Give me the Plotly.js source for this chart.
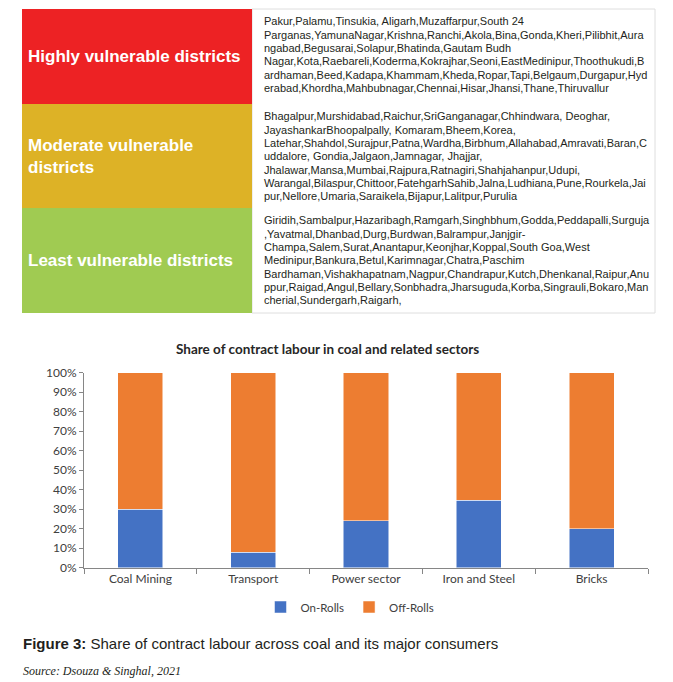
<!DOCTYPE html>
<html>
<head>
<meta charset="utf-8">
<script src="https://cdn.plot.ly/plotly-3.0.1.min.js"></script>
<style>html,body{margin:0;padding:0;background:#fff;}#chart{width:673px;height:682px;}</style>
</head>
<body>
<div id="chart"></div>
<script>
// ---------- data ----------
const tierLabels = ["Highly vulnerable districts", "Moderate vulnerable<br>districts", "Least vulnerable districts"];
const tierColors = ["#ED2224", "#DDB226", "#A0CB52"];
const highlyDistricts = [
  "Pakur,Palamu,Tinsukia, Aligarh,Muzaffarpur,South 24",
  "Parganas,YamunaNagar,Krishna,Ranchi,Akola,Bina,Gonda,Kheri,Pilibhit,Aura",
  "ngabad,Begusarai,Solapur,Bhatinda,Gautam Budh",
  "Nagar,Kota,Raebareli,Koderma,Kokrajhar,Seoni,EastMedinipur,Thoothukudi,B",
  "ardhaman,Beed,Kadapa,Khammam,Kheda,Ropar,Tapi,Belgaum,Durgapur,Hyd",
  "erabad,Khordha,Mahbubnagar,Chennai,Hisar,Jhansi,Thane,Thiruvallur"
];
const moderateDistricts = [
  "Bhagalpur,Murshidabad,Raichur,SriGanganagar,Chhindwara, Deoghar,",
  "JayashankarBhoopalpally, Komaram,Bheem,Korea,",
  "Latehar,Shahdol,Surajpur,Patna,Wardha,Birbhum,Allahabad,Amravati,Baran,C",
  "uddalore, Gondia,Jalgaon,Jamnagar, Jhajjar,",
  "Jhalawar,Mansa,Mumbai,Rajpura,Ratnagiri,Shahjahanpur,Udupi,",
  "Warangal,Bilaspur,Chittoor,FatehgarhSahib,Jalna,Ludhiana,Pune,Rourkela,Jai",
  "pur,Nellore,Umaria,Saraikela,Bijapur,Lalitpur,Purulia"
];
const leastDistricts = [
  "Giridih,Sambalpur,Hazaribagh,Ramgarh,Singhbhum,Godda,Peddapalli,Surguja",
  ",Yavatmal,Dhanbad,Durg,Burdwan,Balrampur,Janjgir-",
  "Champa,Salem,Surat,Anantapur,Keonjhar,Koppal,South Goa,West",
  "Medinipur,Bankura,Betul,Karimnagar,Chatra,Paschim",
  "Bardhaman,Vishakhapatnam,Nagpur,Chandrapur,Kutch,Dhenkanal,Raipur,Anu",
  "ppur,Raigad,Angul,Bellary,Sonbhadra,Jharsuguda,Korba,Singrauli,Bokaro,Man",
  "cherial,Sundergarh,Raigarh,"
];
const sectors = ["Coal Mining", "Transport", "Power sector", "Iron and Steel", "Bricks"];
const onRolls = [30, 8, 24, 34.5, 20];
const offRolls = [70, 92, 76, 65.5, 80];
const chartTitle = "Share of contract labour in coal and related sectors";
const figureCaption = "<b>Figure 3:</b> Share of contract labour across coal and its major consumers";
const sourceText = "<i>Source: Dsouza &amp; Singhal, 2021</i>";

// ---------- layout helpers ----------
const W = 673, H = 682;
const px = x => x / W;
const py = y => 1 - y / H;
const rowEdges = [9, 104, 208, 313];
const colLeft = 22, colSplit = 252, colRight = 655;
const districtRows = [highlyDistricts, moderateDistricts, leastDistricts];

const shapes = [];
const annotations = [];

// right column box
shapes.push({type: "rect", xref: "paper", yref: "paper",
  x0: px(colSplit), x1: px(colRight), y0: py(rowEdges[3]), y1: py(rowEdges[0]),
  fillcolor: "#ffffff", line: {color: "#dedede", width: 1}, layer: "below"});

tierLabels.forEach((lab, i) => {
  const top = rowEdges[i], bot = rowEdges[i + 1];
  shapes.push({type: "rect", xref: "paper", yref: "paper",
    x0: px(colLeft), x1: px(colSplit), y0: py(bot), y1: py(top),
    fillcolor: tierColors[i], line: {width: 0}, layer: "below"});
  annotations.push({xref: "paper", yref: "paper", x: px(26), y: py((top + bot) / 2),
    xanchor: "left", yanchor: "middle", align: "left", showarrow: false,
    text: "<b>" + lab + "</b>",
    font: {family: "Liberation Sans, Arial, sans-serif", size: 17, color: "#ffffff"}});
  districtRows[i].forEach((line, j) => {
    annotations.push({xref: "paper", yref: "paper", x: px(262), y: py(top + 12.5 + j * 13.3),
      xanchor: "left", yanchor: "middle", align: "left", showarrow: false,
      text: line,
      font: {family: "Liberation Sans, Arial, sans-serif", size: 11, color: "#231f20"}});
  });
});

// chart title
annotations.push({xref: "paper", yref: "paper", x: px(327), y: py(348.5),
  xanchor: "center", yanchor: "middle", showarrow: false,
  text: "<b>" + chartTitle + "</b>",
  font: {family: "Lato, Open Sans, sans-serif", size: 13.5, color: "#262626"}});

// caption & source
annotations.push({xref: "paper", yref: "paper", x: px(21), y: py(643),
  xanchor: "left", yanchor: "middle", showarrow: false,
  text: figureCaption,
  font: {family: "Liberation Sans, sans-serif", size: 15, color: "#231f20"}});
annotations.push({xref: "paper", yref: "paper", x: px(21), y: py(671),
  xanchor: "left", yanchor: "middle", showarrow: false,
  text: sourceText,
  font: {family: "Liberation Serif, Times New Roman, serif", size: 12, color: "#231f20"}});

const traces = [
  {type: "bar", name: "On-Rolls", x: sectors, y: onRolls,
   marker: {color: "#4472C4", line: {color: "#ffffff", width: 0.5}}, hoverinfo: "none"},
  {type: "bar", name: "Off-Rolls", x: sectors, y: offRolls,
   marker: {color: "#ED7D31", line: {color: "#ffffff", width: 0.5}}, hoverinfo: "none"}
];

const axisColor = "#868686";
const layout = {
  width: W, height: H,
  margin: {l: 0, r: 0, t: 0, b: 0},
  paper_bgcolor: "#ffffff", plot_bgcolor: "rgba(0,0,0,0)",
  barmode: "stack", bargap: 0.6,
  showlegend: true,
  legend: {orientation: "h", x: px(350), xanchor: "center", y: py(607), yanchor: "middle",
    font: {family: "Lato, Open Sans, sans-serif", size: 11.5, color: "#404040"},
    itemwidth: 30, traceorder: "normal"},
  xaxis: {domain: [px(84), px(648)], showline: true, linecolor: axisColor, linewidth: 1,
    ticks: "outside", tickson: "boundaries", ticklen: 5, tickcolor: axisColor,
    showgrid: false, zeroline: false, fixedrange: true,
    tickfont: {family: "Lato, Open Sans, sans-serif", size: 12, color: "#404040"}},
  yaxis: {domain: [py(567.7), py(372.7)], range: [0, 100], dtick: 10, ticksuffix: "%",
    showline: true, linecolor: axisColor, linewidth: 1, ticks: "outside", ticklen: 4,
    tickcolor: axisColor, showgrid: false, zeroline: false, fixedrange: true,
    tickfont: {family: "Lato, Open Sans, sans-serif", size: 12, color: "#404040"}},
  shapes: shapes,
  annotations: annotations
};

Plotly.newPlot("chart", traces, layout, {displayModeBar: false, staticPlot: true});
</script>
</body>
</html>
